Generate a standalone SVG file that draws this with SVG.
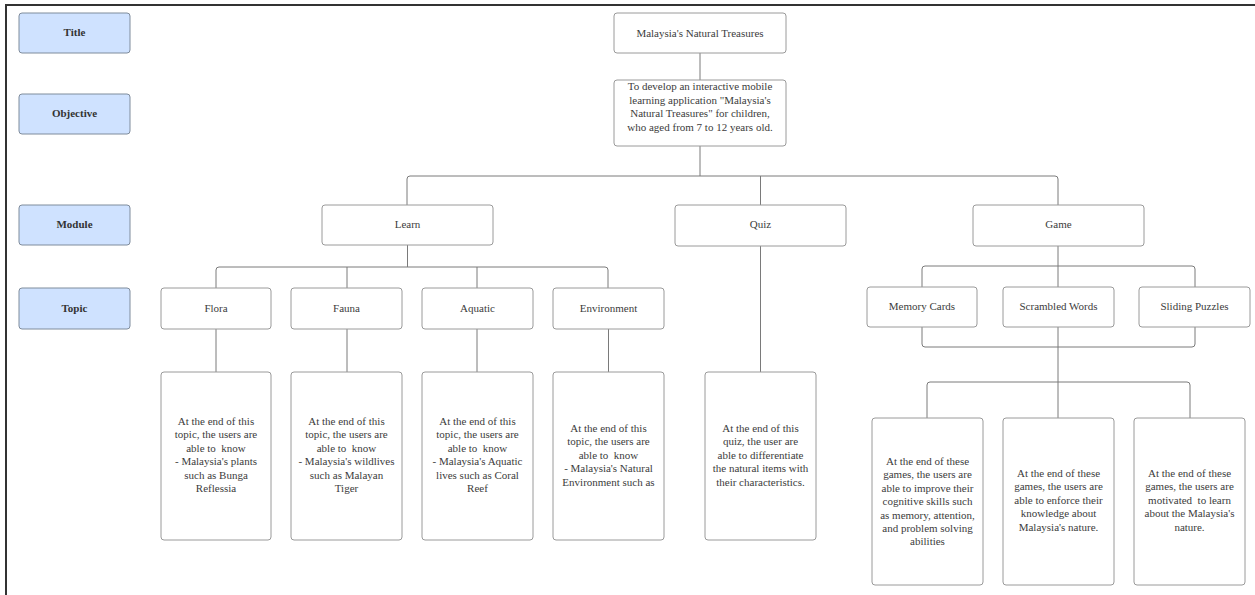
<svg xmlns="http://www.w3.org/2000/svg" width="1255" height="595" viewBox="0 0 1255 595" font-family="'Liberation Serif', 'Times New Roman', serif">
<style>
.bg{fill:#ffffff}
.frame{fill:none;stroke:#333;stroke-width:2}
.lbl rect{fill:#cfe2ff;stroke:#7f8c9c;stroke-width:1}
.lbl text{font-size:11px;font-weight:bold;fill:#333;text-anchor:middle}
.node rect{fill:#fff;stroke:#9a9a9a;stroke-width:1}
.node text{font-size:11px;fill:#3c3c3c;text-anchor:middle;white-space:pre}
.conn path{fill:none;stroke:#7a7a7a;stroke-width:1}
</style>
<rect class="bg" x="0" y="0" width="1255" height="595"/>
<path class="frame" d="M6,595 V5 H1255"/>

<g id="lbl-title" class="lbl"><rect x="19" y="13" width="111" height="40" rx="3"/><text x="74.5" y="36">Title</text></g>
<g id="lbl-objective" class="lbl"><rect x="19" y="94" width="111" height="40" rx="3"/><text x="74.5" y="117">Objective</text></g>
<g id="lbl-module" class="lbl"><rect x="19" y="205" width="111" height="40" rx="3"/><text x="74.5" y="228">Module</text></g>
<g id="lbl-topic" class="lbl"><rect x="19" y="288" width="111" height="41" rx="3"/><text x="74.5" y="311.5">Topic</text></g>

<g class="conn" id="connectors">
<path d="M700,53 V80"/>
<path d="M700,146 V176"/>
<path d="M407,205 V179 Q407,176 410,176 H1055 Q1058,176 1058,179 V205"/>
<path d="M760.5,176 V205"/>
<path d="M407.5,245 V267"/>
<path d="M216,288 V270 Q216,267 219,267 H605 Q608,267 608,270 V288"/>
<path d="M347,267 V288"/>
<path d="M477,267 V288"/>
<path d="M216,329 V372"/>
<path d="M347,329 V372"/>
<path d="M477,329 V372"/>
<path d="M608.5,329 V372"/>
<path d="M760.5,246 V372"/>
<path d="M1058,246 V287"/>
<path d="M922,287 V269 Q922,266 925,266 H1192 Q1195,266 1195,269 V287"/>
<path d="M922,327 V344 Q922,347 925,347 H1192 Q1195,347 1195,344 V327"/>
<path d="M1058,327 V418"/>
<path d="M927,418 V385 Q927,382 930,382 H1187 Q1190,382 1190,385 V418"/>
</g>

<g id="title" class="node"><rect x="614" y="13" width="172" height="40" rx="3"/><text x="700" y="37">Malaysia's Natural Treasures</text></g>
<g id="objective" class="node"><rect x="614" y="80" width="172" height="66" rx="3"/>
<text x="700" y="90"><tspan x="700" y="90">To develop an interactive mobile</tspan><tspan x="700" y="103.5">learning application "Malaysia's</tspan><tspan x="700" y="117">Natural Treasures" for children,</tspan><tspan x="700" y="130.5">who aged from 7 to 12 years old.</tspan></text></g>

<g id="learn" class="node"><rect x="322" y="205" width="171" height="40" rx="3"/><text x="407.5" y="228">Learn</text></g>
<g id="quiz" class="node"><rect x="675" y="205" width="171" height="41" rx="3"/><text x="760.5" y="228">Quiz</text></g>
<g id="game" class="node"><rect x="973" y="205" width="171" height="41" rx="3"/><text x="1058.5" y="228">Game</text></g>

<g id="flora" class="node"><rect x="161" y="288" width="110" height="41" rx="3"/><text x="216" y="311.5">Flora</text></g>
<g id="fauna" class="node"><rect x="291" y="288" width="111" height="41" rx="3"/><text x="346.5" y="311.5">Fauna</text></g>
<g id="aquatic" class="node"><rect x="422" y="288" width="111" height="41" rx="3"/><text x="477.5" y="311.5">Aquatic</text></g>
<g id="environment" class="node"><rect x="553" y="288" width="111" height="41" rx="3"/><text x="608.5" y="311.5">Environment</text></g>

<g id="memory" class="node"><rect x="867" y="287" width="110" height="40" rx="3"/><text x="922" y="309.5">Memory Cards</text></g>
<g id="scrambled" class="node"><rect x="1003" y="287" width="111" height="40" rx="3"/><text x="1058.5" y="309.5">Scrambled Words</text></g>
<g id="sliding" class="node"><rect x="1139" y="287" width="111" height="40" rx="3"/><text x="1194.5" y="309.5">Sliding Puzzles</text></g>

<g id="flora-desc" class="node"><rect x="161" y="372" width="110" height="168" rx="3"/>
<text><tspan x="216" y="425">At the end of this</tspan><tspan x="216" y="438.4">topic, the users are</tspan><tspan x="216" y="451.8">able to  know</tspan><tspan x="216" y="465.2">- Malaysia's plants</tspan><tspan x="216" y="478.6">such as Bunga</tspan><tspan x="216" y="492">Reflessia</tspan></text></g>
<g id="fauna-desc" class="node"><rect x="291" y="372" width="111" height="168" rx="3"/>
<text><tspan x="346.5" y="425">At the end of this</tspan><tspan x="346.5" y="438.4">topic, the users are</tspan><tspan x="346.5" y="451.8">able to  know</tspan><tspan x="346.5" y="465.2">- Malaysia's wildlives</tspan><tspan x="346.5" y="478.6">such as Malayan</tspan><tspan x="346.5" y="492">Tiger</tspan></text></g>
<g id="aquatic-desc" class="node"><rect x="422" y="372" width="111" height="168" rx="3"/>
<text><tspan x="477.5" y="425">At the end of this</tspan><tspan x="477.5" y="438.4">topic, the users are</tspan><tspan x="477.5" y="451.8">able to  know</tspan><tspan x="477.5" y="465.2">- Malaysia's Aquatic</tspan><tspan x="477.5" y="478.6">lives such as Coral</tspan><tspan x="477.5" y="492">Reef</tspan></text></g>
<g id="environment-desc" class="node"><rect x="553" y="372" width="111" height="168" rx="3"/>
<text><tspan x="608.5" y="432">At the end of this</tspan><tspan x="608.5" y="445.4">topic, the users are</tspan><tspan x="608.5" y="458.8">able to  know</tspan><tspan x="608.5" y="472.2">- Malaysia's Natural</tspan><tspan x="608.5" y="485.6">Environment such as</tspan></text></g>
<g id="quiz-desc" class="node"><rect x="705" y="372" width="111" height="168" rx="3"/>
<text><tspan x="760.5" y="432">At the end of this</tspan><tspan x="760.5" y="445.4">quiz, the user are</tspan><tspan x="760.5" y="458.8">able to differentiate</tspan><tspan x="760.5" y="472.2">the natural items with</tspan><tspan x="760.5" y="485.6">their characteristics.</tspan></text></g>

<g id="memory-desc" class="node"><rect x="872" y="418" width="111" height="167" rx="3"/>
<text><tspan x="927.5" y="465">At the end of these</tspan><tspan x="927.5" y="478.4">games, the users are</tspan><tspan x="927.5" y="491.8">able to improve their</tspan><tspan x="927.5" y="505.2">cognitive skills such</tspan><tspan x="927.5" y="518.6">as memory, attention,</tspan><tspan x="927.5" y="532">and problem solving</tspan><tspan x="927.5" y="545.4">abilities</tspan></text></g>
<g id="scrambled-desc" class="node"><rect x="1003" y="418" width="111" height="167" rx="3"/>
<text><tspan x="1058.5" y="477">At the end of these</tspan><tspan x="1058.5" y="490.4">games, the users are</tspan><tspan x="1058.5" y="503.8">able to enforce their</tspan><tspan x="1058.5" y="517.2">knowledge about</tspan><tspan x="1058.5" y="530.6">Malaysia's nature.</tspan></text></g>
<g id="sliding-desc" class="node"><rect x="1134" y="418" width="111" height="167" rx="3"/>
<text><tspan x="1189.5" y="477">At the end of these</tspan><tspan x="1189.5" y="490.4">games, the users are</tspan><tspan x="1189.5" y="503.8">motivated  to learn</tspan><tspan x="1189.5" y="517.2">about the Malaysia's</tspan><tspan x="1189.5" y="530.6">nature.</tspan></text></g>
</svg>
